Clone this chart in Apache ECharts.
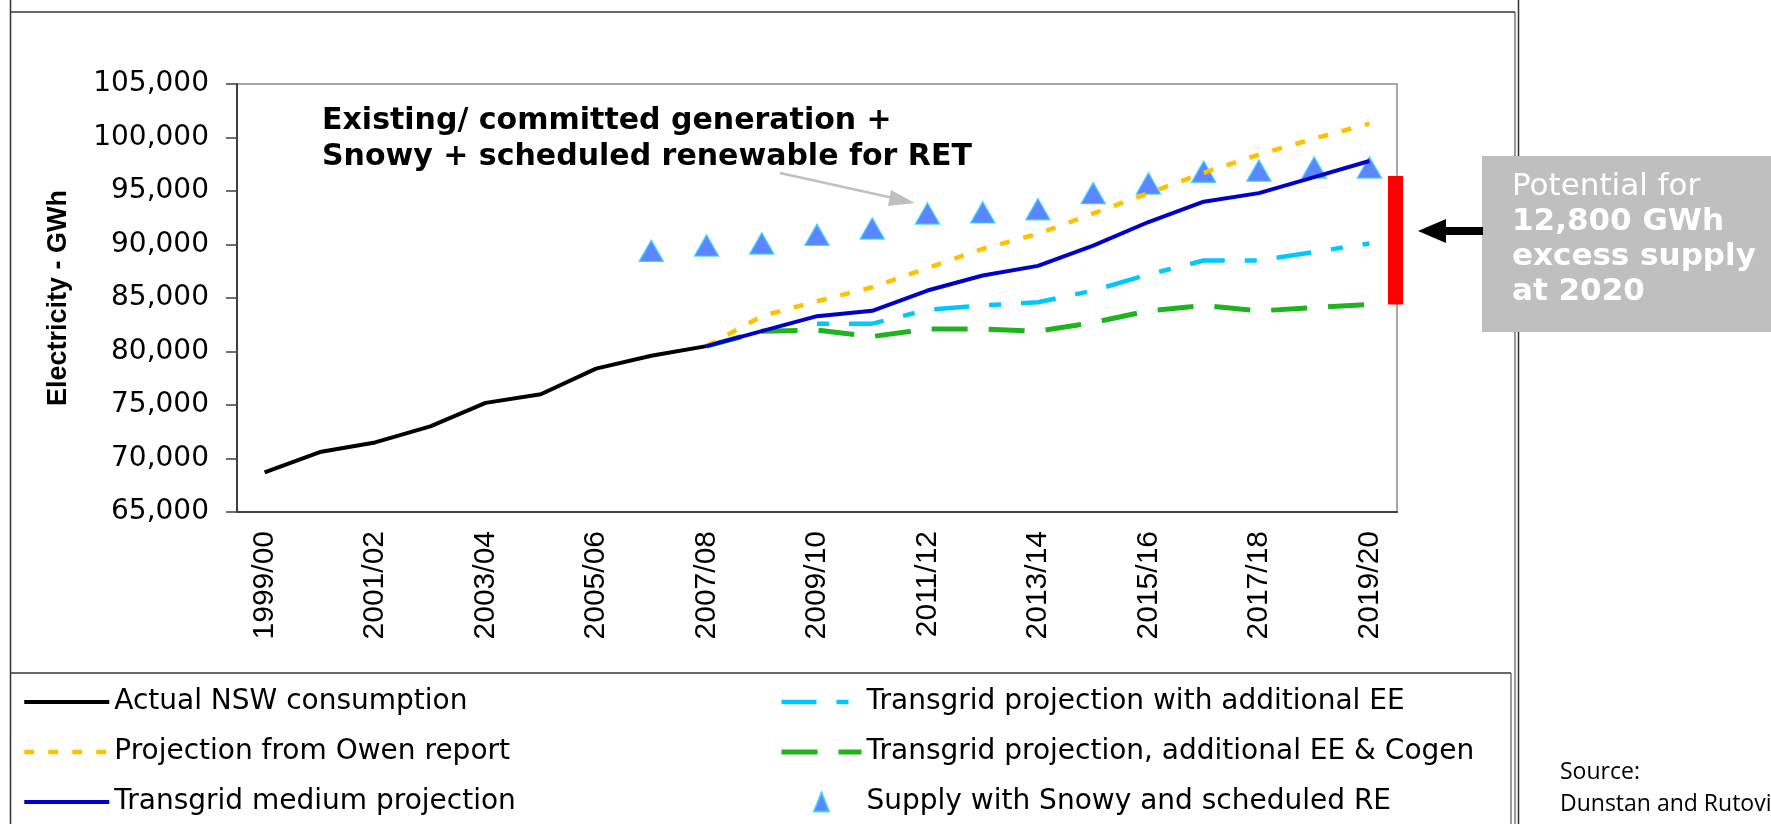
<!DOCTYPE html>
<html>
<head>
<meta charset="utf-8">
<title>NSW electricity demand projections vs supply</title>
<script src="https://cdn.jsdelivr.net/npm/echarts@6/dist/echarts.min.js"></script>
<style>
  html, body { margin: 0; padding: 0; background: #fff; }
  #chart { width: 1771px; height: 824px; }
</style>
</head>
<body>
<div id="chart"></div>
<script>
'use strict';

// financial years on the x axis
var categories = ['1999/00', '2000/01', '2001/02', '2002/03', '2003/04', '2004/05', '2005/06',
    '2006/07', '2007/08', '2008/09', '2009/10', '2010/11', '2011/12', '2012/13', '2013/14',
    '2014/15', '2015/16', '2016/17', '2017/18', '2018/19', '2019/20'];

// GWh
var actualNsw = [68700, 70600, 71500, 73000, 75200, 76000, 78400, 79600, 80500,
    null, null, null, null, null, null, null, null, null, null, null, null];
var owenReport = [null, null, null, null, null, null, null, null, 80500,
    83300, 84700, 86000, 87800, 89600, 91000, 92900, 94800, 96700, 98400, 99900, 101300];
var transgridMedium = [null, null, null, null, null, null, null, null, 80500,
    81900, 83300, 83800, 85700, 87100, 88000, 89900, 92100, 94000, 94800, 96300, 97800];
var transgridEE = [null, null, null, null, null, null, null, null, null,
    null, 82600, 82600, 83900, 84300, 84600, 85700, 87200, 88500, 88500, 89300, 90100];
var transgridEECogen = [null, null, null, null, null, null, null, null, 80500,
    81900, 82000, 81400, 82100, 82100, 81900, 82700, 83800, 84300, 83800, 84100, 84400];
var supplySnowyRE = [null, null, null, null, null, null, null, 89400,
    89900, 90100, 90900, 91500, 92900, 93000, 93300, 94800, 95700, 96800, 96900, 97200, 97200];

// red bar at 2020: gap between supply and the lowest projection
var excessRange = [84400, 96400];
var yTicks = { min: 65000, max: 105000, step: 5000 };

var FONT = 'DejaVu Sans';
var ARIAL = 'Liberation Sans';

var chart = echarts.init(document.getElementById('chart'));

function lineItem(name, width) {
    // hide the little symbol echarts puts in the middle of a line legend icon
    return { name: name, itemStyle: { opacity: 0 }, lineStyle: { width: width, dashOffset: 0 } };
}

var legendBase = {
    orient: 'vertical', top: 688, padding: 0,
    itemGap: 22,
    selectedMode: false,
    textStyle: { fontFamily: FONT, fontSize: 28, color: '#000' }
};

var option = {
    animation: false,
    backgroundColor: '#fff',
    grid: {
        left: 237, top: 84, right: 374, bottom: 312,
        show: true, borderColor: '#a6a6a6', borderWidth: 2
    },
    xAxis: {
        type: 'category',
        data: categories,
        boundaryGap: true,
        axisLine: { lineStyle: { color: '#404040', width: 2 } },
        axisTick: { interval: 0, length: 10, lineStyle: { color: '#404040', width: 1.5 } },
        axisLabel: { interval: 1, rotate: 90, margin: 19, color: '#000', fontFamily: ARIAL, fontSize: 30 },
        splitLine: { show: false }
    },
    yAxis: {
        type: 'value',
        min: yTicks.min, max: yTicks.max, interval: yTicks.step,
        name: 'Electricity - GWh',
        nameLocation: 'middle',
        nameRotate: 90,
        nameGap: 165,
        nameTextStyle: { fontFamily: ARIAL, fontWeight: 'bold', fontSize: 27, color: '#000' },
        axisLine: { show: true, lineStyle: { color: '#404040', width: 2 } },
        axisTick: { show: true, length: 11, lineStyle: { color: '#404040', width: 1.5 } },
        splitLine: { show: false },
        axisLabel: {
            margin: 28, color: '#000', fontFamily: FONT, fontSize: 28,
            formatter: function(v) { return String(v).replace(/\B(?=(\d{3})+(?!\d))/g, ','); }
        }
    },
    legend: [
        echarts.util.merge({
            left: 22, itemWidth: 85, itemHeight: 16,
            data: [
                lineItem('Actual NSW consumption', 4),
                lineItem('Projection from Owen report', 4.5),
                lineItem('Transgrid medium projection', 4)
            ]
        }, legendBase),
        echarts.util.merge({
            left: 779, itemWidth: 80, itemHeight: 19,
            symbolKeepAspect: true,
            data: [
                lineItem('Transgrid projection with additional EE', 4.5),
                lineItem('Transgrid projection, additional EE & Cogen', 5),
                { name: 'Supply with Snowy and scheduled RE', icon: 'path://M0,20L8,0L16,20Z' }
            ]
        }, legendBase)
    ],
    series: [{
        name: 'Transgrid projection with additional EE',
        type: 'line',
        data: transgridEE,
        color: '#00c8ff',
        symbol: 'none',
        lineStyle: { width: 4.5, type: [35, 20, 12, 20], dashOffset: 55, cap: 'butt' }
    }, {
        name: 'Transgrid projection, additional EE & Cogen',
        type: 'line',
        data: transgridEECogen,
        color: '#1fb41f',
        symbol: 'none',
        lineStyle: { width: 5, type: [36, 21], cap: 'butt' }
    }, {
        name: 'Projection from Owen report',
        type: 'line',
        data: owenReport,
        color: '#ffc000',
        symbol: 'none',
        lineStyle: { width: 4.5, type: [10, 14], cap: 'butt' }
    }, {
        name: 'Actual NSW consumption',
        type: 'line',
        data: actualNsw,
        color: '#000',
        symbol: 'none',
        lineStyle: { width: 4 }
    }, {
        name: 'Transgrid medium projection',
        type: 'line',
        data: transgridMedium,
        color: '#0000c8',
        symbol: 'none',
        lineStyle: { width: 4 }
    }, {
        name: 'Supply with Snowy and scheduled RE',
        type: 'scatter',
        data: supplySnowyRE,
        color: '#3366ff',
        symbol: 'triangle',
        symbolSize: [24, 21],
        itemStyle: { color: '#3366ff', borderColor: '#33ccff', borderWidth: 1.5 }
    }, {
        // the red "excess supply" bar sitting on the right edge of the plot
        type: 'custom',
        silent: true,
        clip: false,
        data: [[categories.length - 1, excessRange[1]]],
        renderItem: function(params, api) {
            var top = api.coord([categories.length - 1, excessRange[1]]);
            var bottom = api.coord([categories.length - 1, excessRange[0]]);
            var right = params.coordSys.x + params.coordSys.width;
            return {
                type: 'rect',
                shape: { x: right - 9, y: top[1], width: 15, height: bottom[1] - top[1] },
                style: { fill: '#ff0000' }
            };
        }
    }],
    graphic: [
        // frame of the pasted figure
        { type: 'line', silent: true, shape: { x1: 10.5, y1: 0, x2: 10.5, y2: 824 }, style: { stroke: '#333', lineWidth: 1.5 } },
        { type: 'line', silent: true, shape: { x1: 10, y1: 12, x2: 1515, y2: 12 }, style: { stroke: '#333', lineWidth: 1.5 } },
        { type: 'line', silent: true, shape: { x1: 1515, y1: 12, x2: 1515, y2: 824 }, style: { stroke: '#555', lineWidth: 1.2 } },
        { type: 'line', silent: true, shape: { x1: 1518.5, y1: 0, x2: 1518.5, y2: 824 }, style: { stroke: '#333', lineWidth: 1.5 } },
        { type: 'line', silent: true, shape: { x1: 10, y1: 673, x2: 1511, y2: 673 }, style: { stroke: '#333', lineWidth: 1.5 } },
        { type: 'line', silent: true, shape: { x1: 1511, y1: 673, x2: 1511, y2: 824 }, style: { stroke: '#555', lineWidth: 1.2 } },

        // callout for the triangles
        {
            type: 'text', left: 322, top: 103, silent: true,
            style: {
                text: 'Existing/ committed generation +\nSnowy + scheduled renewable for RET',
                fontFamily: FONT, fontWeight: 'bold', fontSize: 30, lineHeight: 36, fill: '#000'
            }
        },
        { type: 'line', silent: true, shape: { x1: 780, y1: 173, x2: 900, y2: 199.5 }, style: { stroke: '#bfbfbf', lineWidth: 2.5 } },
        { type: 'polygon', silent: true, shape: { points: [[915, 203], [891, 190], [888, 206]] }, style: { fill: '#bfbfbf' } },

        // grey box and arrow on the right
        { type: 'rect', silent: true, shape: { x: 1482, y: 156, width: 289, height: 176 }, style: { fill: '#bfbfbf' } },
        {
            type: 'text', left: 1512, top: 171, silent: true,
            style: {
                text: '{a|Potential for}\n{b|12,800 GWh}\n{b|excess supply}\n{b|at 2020}',
                rich: {
                    a: { fontFamily: FONT, fontSize: 31, lineHeight: 35, fill: '#fff' },
                    b: { fontFamily: FONT, fontSize: 31, fontWeight: 'bold', lineHeight: 35, fill: '#fff' }
                }
            }
        },
        { type: 'rect', silent: true, shape: { x: 1440, y: 227, width: 43, height: 8 }, style: { fill: '#000' } },
        { type: 'polygon', silent: true, shape: { points: [[1418, 231], [1446, 219], [1446, 243]] }, style: { fill: '#000' } },

        // source note
        {
            type: 'text', left: 1560, top: 756, silent: true,
            style: {
                text: 'Source:\nDunstan and Rutovic',
                fontFamily: 'Open Sans', fontSize: 23, lineHeight: 32, fill: '#000'
            }
        }
    ]
};

chart.setOption(option);
</script>
</body>
</html>
